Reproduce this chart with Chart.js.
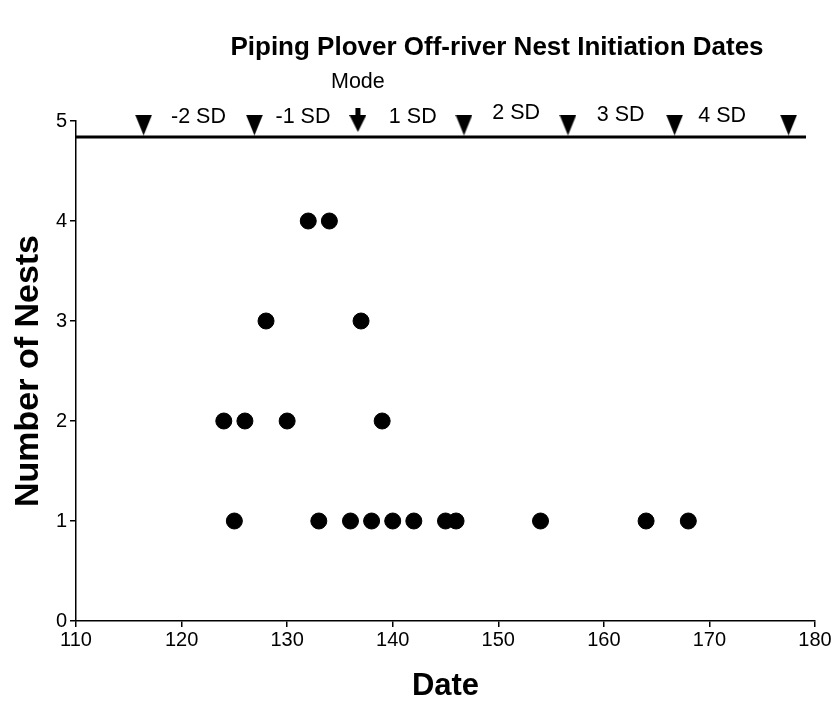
<!DOCTYPE html>
<html>
<head>
<meta charset="utf-8">
<script src="https://cdn.jsdelivr.net/npm/chart.js@4.4.1/dist/chart.umd.min.js"></script>
<style>
  html, body { margin: 0; padding: 0; background: #fff; }
  #wrap { width: 835px; height: 708px; }
</style>
</head>
<body>
<div id="wrap"><canvas id="c" width="835" height="708"></canvas></div>
<script>
// ---- data ----
const chartTitle = 'Piping Plover Off-river Nest Initiation Dates';
const xTitle = 'Date';
const yTitle = 'Number of Nests';
const dates = [124, 125, 126, 128, 130, 132, 133, 134, 136, 137, 138, 139, 140, 142, 145, 146, 154, 164, 168];
const nests = [2, 1, 2, 3, 2, 4, 1, 4, 1, 3, 1, 2, 1, 1, 1, 1, 1, 1, 1];
const sdMarkerDates = [116.4, 126.9, 146.75, 156.6, 166.7, 177.5];
const sdMarkerLevel = 4.96;
const modeDate = 136.7;
const modeLevel = 5.01;
const modeLabel = 'Mode';
const modeLabelLevel = 5.385;
const sdLabels = ['-2 SD', '-1 SD', '1 SD', '2 SD', '3 SD', '4 SD'];
const sdLabelDates = [121.6, 131.5, 141.9, 151.7, 161.6, 171.2];
const sdLabelLevels = [5.04, 5.04, 5.04, 5.075, 5.06, 5.045];
const baselineLevel = 4.84;
const baselineStart = 110;
const baselineEnd = 179.15;
const xMin = 110, xMax = 180, xStep = 10;
const yMin = 0, yMax = 5, yStep = 1;

// ---- marker images ----
function makeTri(w, h) {
  const c = document.createElement('canvas');
  c.width = w; c.height = h;
  const g = c.getContext('2d');
  g.fillStyle = '#000';
  g.beginPath(); g.moveTo(0, 0); g.lineTo(w, 0); g.lineTo(w / 2, h); g.closePath(); g.fill();
  return c;
}
function makeModeArrow() {
  const c = document.createElement('canvas');
  c.width = 17; c.height = 24;
  const g = c.getContext('2d');
  g.fillStyle = '#000';
  g.fillRect(6, 0, 5, 9);
  g.beginPath(); g.moveTo(0, 7); g.lineTo(17, 7); g.lineTo(8.5, 24); g.closePath(); g.fill();
  return c;
}
const triImg = makeTri(17, 21);
const modeImg = makeModeArrow();

const FONT = '"Liberation Sans", Arial, sans-serif';

const annotationPlugin = {
  id: 'annotations',
  afterDatasetsDraw(chart) {
    const ctx = chart.ctx;
    const xs = chart.scales.x, ys = chart.scales.y;
    ctx.save();
    ctx.fillStyle = '#000';
    ctx.textAlign = 'center';
    ctx.textBaseline = 'middle';
    ctx.font = '21.5px ' + FONT;
    sdLabels.forEach((t, i) => {
      ctx.fillText(t, xs.getPixelForValue(sdLabelDates[i]), ys.getPixelForValue(sdLabelLevels[i]));
    });
    ctx.fillText(modeLabel, xs.getPixelForValue(modeDate), ys.getPixelForValue(modeLabelLevel));
    // chart title
    ctx.font = 'bold 26px ' + FONT;
    ctx.fillText(chartTitle, 497, 48);
    ctx.restore();
  }
};

new Chart(document.getElementById('c'), {
  type: 'scatter',
  data: {
    datasets: [
      {
        label: 'Nests',
        data: dates.map((d, i) => ({ x: d, y: nests[i] })),
        backgroundColor: '#000',
        borderColor: '#000',
        pointRadius: 8,
        pointHoverRadius: 8,
        clip: false
      },
      {
        label: 'Baseline',
        data: [{ x: baselineStart, y: baselineLevel }, { x: baselineEnd, y: baselineLevel }],
        showLine: true,
        borderColor: '#000',
        borderWidth: 3,
        pointRadius: 0,
        clip: false
      },
      {
        label: 'SD markers',
        data: sdMarkerDates.map(d => ({ x: d, y: sdMarkerLevel })),
        pointStyle: triImg,
        clip: false
      },
      {
        label: 'Mode',
        data: [{ x: modeDate, y: modeLevel }],
        pointStyle: modeImg,
        clip: false
      }
    ]
  },
  options: {
    responsive: false,
    animation: false,
    devicePixelRatio: 1,
    layout: { padding: { top: 121, right: 20, left: 0, bottom: 0 } },
    plugins: {
      legend: { display: false },
      tooltip: { enabled: false },
      title: { display: false }
    },
    scales: {
      x: {
        type: 'linear',
        min: xMin, max: xMax,
        afterFit(s) { s.height = 87; },
        ticks: { stepSize: xStep, color: '#000', font: { family: FONT, size: 20 }, padding: 1, maxRotation: 0 },
        grid: { drawOnChartArea: false, drawTicks: true, tickLength: 6, color: '#000', lineWidth: 1.5 },
        border: { display: true, color: '#000', width: 1.5 },
        title: { display: true, text: xTitle, color: '#000', font: { family: FONT, size: 31, weight: 'bold' }, padding: { top: 0, bottom: 3 } }
      },
      y: {
        type: 'linear',
        min: yMin, max: yMax,
        afterFit(s) { s.width = 76; },
        ticks: { stepSize: yStep, color: '#000', font: { family: FONT, size: 20 }, padding: 3 },
        grid: { drawOnChartArea: false, drawTicks: true, tickLength: 6, color: '#000', lineWidth: 1.5 },
        border: { display: true, color: '#000', width: 1.5 },
        title: { display: true, text: yTitle, color: '#000', font: { family: FONT, size: 34, weight: 'bold' }, padding: { top: 8, bottom: 0 } }
      }
    }
  },
  plugins: [annotationPlugin]
});
</script>
</body>
</html>
